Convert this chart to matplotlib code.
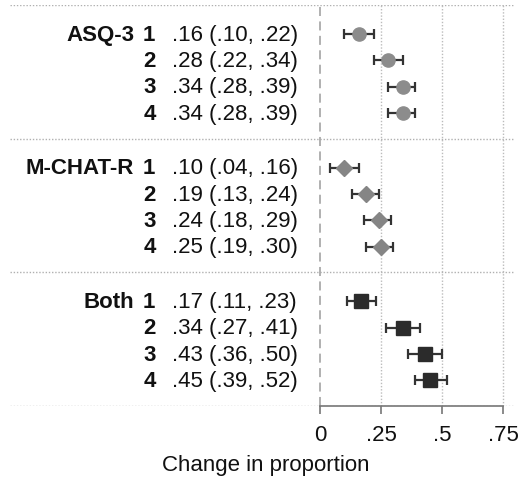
import matplotlib
matplotlib.use("Agg")
import matplotlib.pyplot as plt
from matplotlib.transforms import blended_transform_factory

plt.rcParams['font.family'] = ['Liberation Sans', 'DejaVu Sans']

groups = ["ASQ-3", "M-CHAT-R", "Both"]
rows = ["1", "2", "3", "4"]
est = [[0.16, 0.28, 0.34, 0.34],
       [0.10, 0.19, 0.24, 0.25],
       [0.17, 0.34, 0.43, 0.45]]
lo = [[0.10, 0.22, 0.28, 0.28],
      [0.04, 0.13, 0.18, 0.19],
      [0.11, 0.27, 0.36, 0.39]]
hi = [[0.22, 0.34, 0.39, 0.39],
      [0.16, 0.24, 0.29, 0.30],
      [0.23, 0.41, 0.50, 0.52]]
xticks = [0, 0.25, 0.5, 0.75]
xticklabels = ["0", ".25", ".5", ".75"]
xlabel = "Change in proportion"

markers = ["o", "D", "s"]
msizes = [9.5, 8.3, 9.8]
mcolors = ["#8c8c8c", "#858585", "#2b2b2b"]

W, H = 522, 481
fig = plt.figure(figsize=(W / 100, H / 100), dpi=100)
L, R, T, B = 10, 514, 6, 407
ax = fig.add_axes([L / W, 1 - B / H, (R - L) / W, (B - T) / H])

x0px, pxu = 320, 244.0
ax.set_xlim((L - x0px) / pxu, (R - x0px) / pxu)
gap = 5.07
ymax = 3 * gap
ax.set_ylim(ymax, 0)

def fmt(v):
    s = f"{v:.2f}"
    return s[1:] if s.startswith("0") else s

tr = blended_transform_factory(fig.transFigure, ax.transData)
fs = 16
for g in range(3):
    off = g * gap
    for i in range(4):
        y = off + 1.1 + i
        e, l, h = est[g][i], lo[g][i], hi[g][i]
        ax.errorbar([e], [y], xerr=[[e - l], [h - e]], fmt="none",
                    ecolor="#333333", elinewidth=1.6, capsize=3.3,
                    capthick=1.6, zorder=3)
        ax.plot([e], [y], marker=markers[g], ms=msizes[g],
                color=mcolors[g], mec=mcolors[g], ls="none", zorder=4)
        if i == 0:
            ax.text(134 / W, y, groups[g], transform=tr, ha="right",
                    va="center", fontsize=fs, fontweight="bold", color="#111111")
        ax.text(155.5 / W, y, rows[i], transform=tr, ha="right",
                va="center", fontsize=fs, fontweight="bold", color="#111111")
        ax.text(172 / W, y, f"{fmt(e)} ({fmt(l)}, {fmt(h)})", transform=tr,
                ha="left", va="center", fontsize=fs, color="#111111")
    ax.axhline(off, color="#b0b0b0", lw=1.0, ls=(0, (1, 1.3)), zorder=1)
ax.axhline(ymax, color="#b0b0b0", lw=1.0, ls=(0, (1, 1.3)), zorder=1)

for xt in xticks[1:]:
    ax.axvline(xt, color="#bcbcbc", lw=1.0, ls=(0, (1, 1.3)), zorder=1)
ax.axvline(0, color="#aaaaaa", lw=1.3, ls=(0, (5, 3)), zorder=2)

for s in ["top", "right", "left"]:
    ax.spines[s].set_visible(False)
ax.spines["bottom"].set_bounds(0, 0.75)
ax.spines["bottom"].set_color("#777777")
ax.spines["bottom"].set_linewidth(1.2)
ax.set_yticks([])
ax.set_xticks(xticks)
ax.set_xticklabels(xticklabels, fontsize=fs, color="#111111")
ax.tick_params(axis="x", length=6, width=1.2, color="#777777", pad=7)

fig.text(266 / W, 1 - 466 / H, xlabel, ha="center", va="center",
         fontsize=fs, color="#111111")

fig.savefig("out.png", dpi=100)
